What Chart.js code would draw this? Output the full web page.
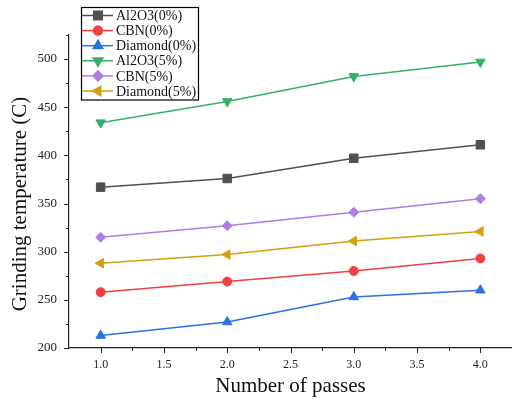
<!DOCTYPE html>
<html>
<head>
<meta charset="utf-8">
<script src="https://cdn.jsdelivr.net/npm/chart.js@4/dist/chart.umd.min.js"></script>
<style>
  body { margin: 0; background: #fff; }
  canvas { display: block; }
</style>
</head>
<body>
<canvas id="chart" width="512" height="400"></canvas>
<script>
// passes on the x axis
const passes = [1, 2, 3, 4];

// grinding temperature per series
const al2o3_0 = [367, 376, 397, 411];
const cbn_0 = [258, 269, 280, 293];
const diamond_0 = [213, 227, 253, 260];
const al2o3_5 = [434, 456, 482, 497];
const cbn_5 = [315, 327, 341, 355];
const diamond_5 = [288, 297, 311, 321];

const seriesNames = ['Al2O3(0%)', 'CBN(0%)', 'Diamond(0%)', 'Al2O3(5%)', 'CBN(5%)', 'Diamond(5%)'];

const yTicks = [200, 250, 300, 350, 400, 450, 500];
const xTicks = [1.0, 1.5, 2.0, 2.5, 3.0, 3.5, 4.0];

const serif = '"Liberation Serif", "DejaVu Serif", serif';

function makeSet(label, values, color, style, rot, r) {
    return {
        label: label,
        data: passes.map((p, i) => ({ x: p, y: values[i] })),
        borderColor: color,
        backgroundColor: color,
        borderWidth: 1.5,
        pointStyle: style,
        rotation: rot,
        pointRadius: r,
        pointBorderWidth: 1,
        tension: 0
    };
}

const datasets = [
    makeSet(seriesNames[0], al2o3_0, '#505050', 'rect', 0, 6),
    makeSet(seriesNames[1], cbn_0, '#f04040', 'circle', 0, 4.5),
    makeSet(seriesNames[2], diamond_0, '#2a72e0', 'triangle', 0, 5.5),
    makeSet(seriesNames[3], al2o3_5, '#35b06a', 'triangle', 180, 5.5),
    makeSet(seriesNames[4], cbn_5, '#b07ce0', 'rectRot', 0, 5),
    makeSet(seriesNames[5], diamond_5, '#d4a010', 'triangle', 270, 5.5)
];

// minor/major tick marks drawn outward from the axes, plus the y title
const tickMarks = {
    id: 'tickMarks',
    afterDraw(chart) {
        const ctx = chart.ctx;
        const xs = chart.scales.x, ys = chart.scales.y;
        const area = chart.chartArea;
        ctx.save();
        ctx.strokeStyle = '#222';
        ctx.lineWidth = 1;
        ctx.beginPath();
        for (let v = 200; v <= 525; v += 25) {
            const py = Math.round(ys.getPixelForValue(v)) + 0.5;
            const len = (v % 50 === 0) ? 5 : 3;
            ctx.moveTo(area.left, py);
            ctx.lineTo(area.left - len, py);
        }
        for (let v = 1.0; v <= 4.25; v += 0.25) {
            const px = Math.round(xs.getPixelForValue(v)) + 0.5;
            const len = (Math.abs(v * 2 - Math.round(v * 2)) < 1e-6) ? 5 : 3;
            ctx.moveTo(px, area.bottom);
            ctx.lineTo(px, area.bottom + len);
        }
        ctx.stroke();

        // y axis title, sits a bit below the plot centre in the original
        ctx.translate(20, 204);
        ctx.rotate(-Math.PI / 2);
        ctx.font = '21px ' + serif;
        ctx.fillStyle = '#111';
        ctx.textAlign = 'center';
        ctx.textBaseline = 'middle';
        ctx.fillText('Grinding temperature (C)', 0, 0);
        ctx.restore();
    }
};

// framed legend with line + marker like the original
const boxLegend = {
    id: 'boxLegend',
    afterDraw(chart) {
        const ctx = chart.ctx;
        ctx.save();
        ctx.strokeStyle = '#000';
        ctx.lineWidth = 1.2;
        ctx.strokeRect(81.5, 7.5, 117, 92.5);
        ctx.font = '14px ' + serif;
        ctx.textBaseline = 'middle';
        chart.data.datasets.forEach((ds, i) => {
            const y = 15.5 + i * 15.1;
            ctx.strokeStyle = ds.borderColor;
            ctx.lineWidth = 1.5;
            ctx.beginPath();
            ctx.moveTo(82, y);
            ctx.lineTo(113, y);
            ctx.stroke();
            ctx.fillStyle = ds.backgroundColor;
            Chart.helpers.drawPoint(ctx, {
                pointStyle: ds.pointStyle,
                rotation: ds.rotation,
                radius: ds.pointRadius,
                borderWidth: 1
            }, 98, y);
            ctx.fillStyle = '#111';
            ctx.fillText(ds.label, 116, y + 1);
        });
        ctx.restore();
    }
};

new Chart(document.getElementById('chart'), {
    type: 'line',
    data: { datasets: datasets },
    plugins: [tickMarks, boxLegend],
    options: {
        responsive: false,
        animation: false,
        layout: { autoPadding: false, padding: { top: 35, right: 0, left: 0, bottom: 0 } },
        plugins: {
            legend: { display: false },
            tooltip: { enabled: false }
        },
        scales: {
            x: {
                type: 'linear',
                min: 0.75,
                max: 4.25,
                grid: { display: false, drawTicks: false },
                border: { display: true, color: '#222', width: 1.2 },
                afterBuildTicks: s => { s.ticks = xTicks.map(v => ({ value: v })); },
                afterFit: s => { s.height = 52; },
                ticks: {
                    padding: 10,
                    color: '#222',
                    font: { family: serif, size: 12 },
                    maxRotation: 0,
                    callback: v => Number(v).toFixed(1)
                },
                title: {
                    display: true,
                    text: 'Number of passes',
                    color: '#111',
                    font: { family: serif, size: 21 },
                    padding: { top: 0, bottom: 1 }
                }
            },
            y: {
                min: 200,
                max: 525,
                grid: { display: false, drawTicks: false },
                border: { display: true, color: '#222', width: 1.2 },
                afterBuildTicks: s => { s.ticks = yTicks.map(v => ({ value: v })); },
                afterFit: s => { s.width = 69; },
                ticks: {
                    padding: 12,
                    color: '#222',
                    font: { family: serif, size: 13 }
                },
                title: { display: false }
            }
        }
    }
});
</script>
</body>
</html>
